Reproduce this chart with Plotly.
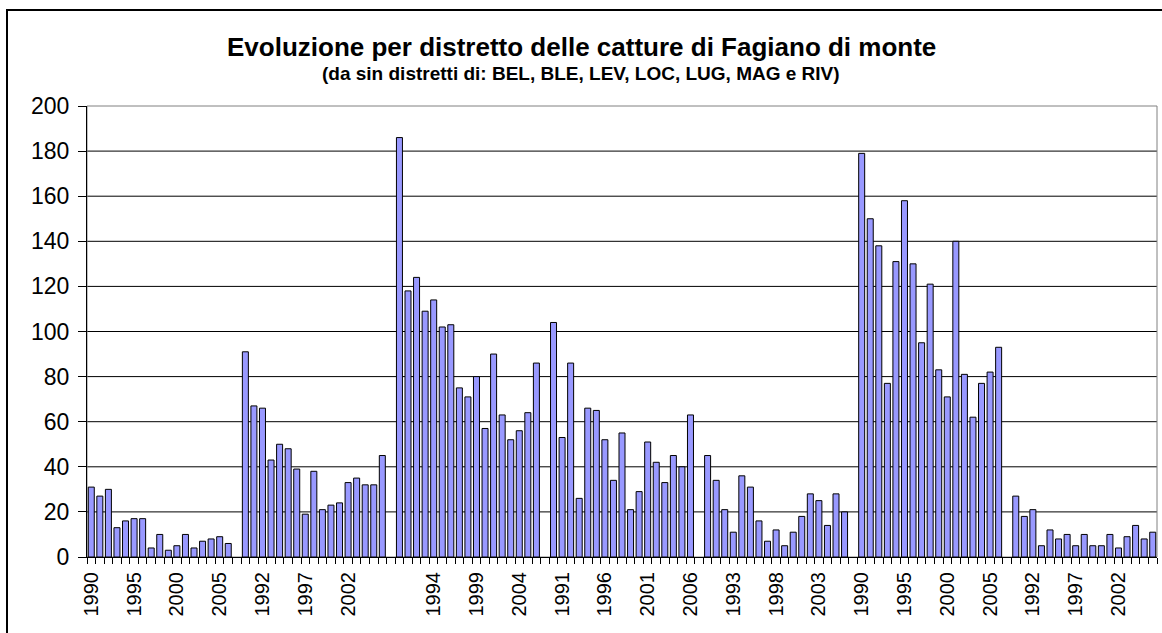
import plotly.graph_objects as go

# Catture di Fagiano di monte per distretto, stagioni 1990-2006
years = list(range(1990, 2007))
districts = ["BEL", "BLE", "LEV", "LOC", "LUG", "MAG", "RIV"]

bel = [31, 27, 30, 13, 16, 17, 17, 4, 10, 3, 5, 10, 4, 7, 8, 9, 6]
ble = [91, 67, 66, 43, 50, 48, 39, 19, 38, 21, 23, 24, 33, 35, 32, 32, 45]
lev = [186, 118, 124, 109, 114, 102, 103, 75, 71, 80, 57, 90, 63, 52, 56, 64, 86]
loc = [104, 53, 86, 26, 66, 65, 52, 34, 55, 21, 29, 51, 42, 33, 45, 40, 63]
lug = [45, 34, 21, 11, 36, 31, 16, 7, 12, 5, 11, 18, 28, 25, 14, 28, 20]
mag = [179, 150, 138, 77, 131, 158, 130, 95, 121, 83, 71, 140, 81, 62, 77, 82, 93]
riv = [27, 18, 21, 5, 12, 8, 10, 5, 10, 5, 5, 10, 4, 9, 14, 8, 11]

series = [bel, ble, lev, loc, lug, mag, riv]

# One category slot per year, with an empty slot between districts
slot = len(years) + 1
xs, ys, labels = [], [], []
for d, vals in enumerate(series):
    for i, v in enumerate(vals):
        xs.append(d * slot + i)
        ys.append(v)
n_cat = len(series) * slot - 1
for k in range(n_cat):
    i = k % slot
    labels.append(str(years[i]) if i < len(years) else "")

tickvals = list(range(0, n_cat, 5))
ticktext = [labels[k] for k in tickvals]

FONT = "Arial, Liberation Sans, sans-serif"

fig = go.Figure(
    go.Bar(
        x=xs,
        y=ys,
        marker=dict(color="#9999FF", line=dict(color="black", width=1)),
        hoverinfo="x+y",
    )
)

L, R, T, B = 87, 5, 106, 76
W, H = 1162, 633
pw, ph = W - L - R, H - T - B

fig.update_layout(
    width=W,
    height=H,
    margin=dict(l=L, r=R, t=T, b=B, pad=0),
    paper_bgcolor="white",
    plot_bgcolor="white",
    bargap=0.3,
    showlegend=False,
    font=dict(family=FONT, color="black"),
    xaxis=dict(
        range=[-0.5, n_cat - 0.5],
        tickmode="array",
        tickvals=tickvals,
        ticktext=ticktext,
        tickangle=-90,
        ticks="",
        tickfont=dict(size=20, family=FONT),
        ticklabelstandoff=6,
        showgrid=False,
        zeroline=False,
        showline=True,
        linecolor="black",
        linewidth=1,
        minor=dict(
            tickmode="linear",
            tick0=-0.5,
            dtick=1,
            ticks="outside",
            ticklen=6,
            tickcolor="black",
            tickwidth=1,
            showgrid=False,
        ),
    ),
    yaxis=dict(
        range=[0, 200],
        tickmode="array",
        tickvals=list(range(0, 201, 20)),
        ticks="outside",
        ticklen=8,
        tickcolor="black",
        tickfont=dict(size=23, family=FONT),
        ticklabelstandoff=4,
        showgrid=False,
        zeroline=False,
        showline=True,
        linecolor="black",
        linewidth=1,
    ),
    shapes=[
        # horizontal gridlines below the top frame
        *[dict(type="line", xref="paper", yref="y", x0=0, x1=1, y0=v, y1=v,
               line=dict(color="black", width=1), layer="below")
          for v in range(20, 200, 20)],
        # grey frame of the plotting area
        dict(type="rect", xref="paper", yref="paper", x0=0, y0=0, x1=1, y1=1,
             line=dict(color="#808080", width=1), layer="below"),
        # outer chart frame
        dict(type="rect", xref="paper", yref="paper",
             x0=(7 - L) / pw, x1=(W + 10 - L) / pw,
             y0=-(H + 10 - T - ph) / ph, y1=(H - B - 10) / ph,
             line=dict(color="black", width=2)),
    ],
    annotations=[
        dict(text="<b>Evoluzione per distretto delle catture di Fagiano di monte</b>",
             xref="paper", yref="paper", x=(W / 2 - L) / pw, y=(H - B - 47) / ph,
             xanchor="center", yanchor="middle", showarrow=False,
             font=dict(size=26, family=FONT)),
        dict(text="<b>(da sin distretti di: " + ", ".join(districts[:-1]) + " e " + districts[-1] + ")</b>",
             xref="paper", yref="paper", x=(W / 2 - L) / pw, y=(H - B - 74) / ph,
             xanchor="center", yanchor="middle", showarrow=False,
             font=dict(size=19, family=FONT)),
    ],
)

fig.write_html("out.html")
